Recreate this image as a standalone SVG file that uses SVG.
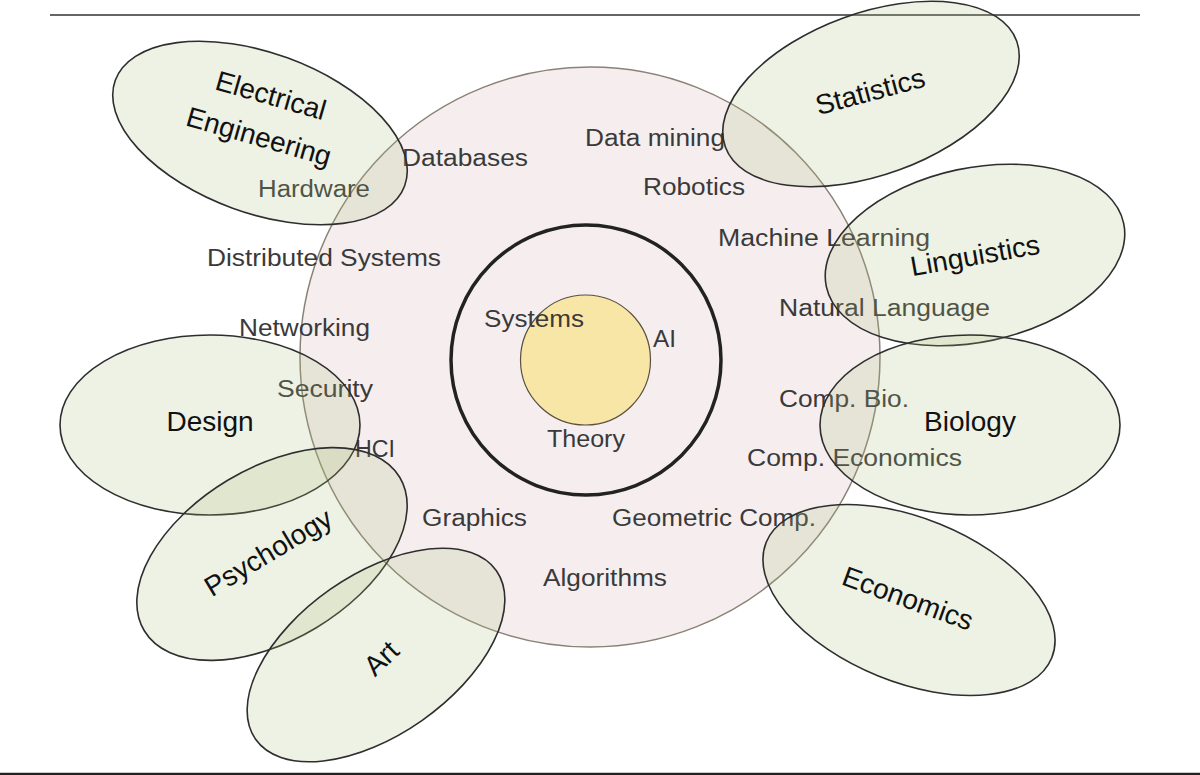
<svg xmlns="http://www.w3.org/2000/svg" width="1200" height="775" viewBox="0 0 1200 775">
<style>
.inner{font-family:"Liberation Sans",Arial,sans-serif;font-size:23px;fill:#3a3a3a;}
.big{font-family:"Liberation Sans",Arial,sans-serif;font-size:28px;fill:#111;text-anchor:middle;}
.ell{fill:#a9bf7a;fill-opacity:0.2;stroke:#2e2e2e;stroke-width:1.6;}
</style>
<rect width="1200" height="775" fill="#ffffff"/>
<line x1="50" y1="15" x2="1140" y2="15" stroke="#333" stroke-width="1.5"/>
<line x1="0" y1="774" x2="1200" y2="774" stroke="#222" stroke-width="2.5"/>

<g id="cs">
<circle cx="590" cy="357" r="290" fill="#f6eeee" stroke="#8a8276" stroke-width="1.5"/>
</g>
<g id="core">
<circle cx="586" cy="360" r="135" fill="none" stroke="#222" stroke-width="3.5"/>
<circle cx="585.5" cy="360" r="65" fill="#f7e6a6" stroke="#5a5040" stroke-width="1.2"/>
</g>

<g id="inner-labels" class="inner">
<text x="258" y="197" textLength="112" lengthAdjust="spacingAndGlyphs">Hardware</text>
<text x="402" y="166" textLength="126" lengthAdjust="spacingAndGlyphs">Databases</text>
<text x="585" y="146" textLength="140" lengthAdjust="spacingAndGlyphs">Data mining</text>
<text x="643" y="195" textLength="102" lengthAdjust="spacingAndGlyphs">Robotics</text>
<text x="718" y="246" textLength="212" lengthAdjust="spacingAndGlyphs">Machine Learning</text>
<text x="779" y="316" textLength="211" lengthAdjust="spacingAndGlyphs">Natural Language</text>
<text x="207" y="266" textLength="234" lengthAdjust="spacingAndGlyphs">Distributed Systems</text>
<text x="239" y="336" textLength="131" lengthAdjust="spacingAndGlyphs">Networking</text>
<text x="277" y="397" textLength="96" lengthAdjust="spacingAndGlyphs">Security</text>
<text x="355" y="457" textLength="40" lengthAdjust="spacingAndGlyphs">HCI</text>
<text x="779" y="407" textLength="130" lengthAdjust="spacingAndGlyphs">Comp. Bio.</text>
<text x="747" y="466" textLength="215" lengthAdjust="spacingAndGlyphs">Comp. Economics</text>
<text x="422" y="526" textLength="105" lengthAdjust="spacingAndGlyphs">Graphics</text>
<text x="612" y="526" textLength="204" lengthAdjust="spacingAndGlyphs">Geometric Comp.</text>
<text x="543" y="586" textLength="124" lengthAdjust="spacingAndGlyphs">Algorithms</text>
<text x="484" y="327" textLength="100" lengthAdjust="spacingAndGlyphs">Systems</text>
<text x="653" y="347" textLength="23" lengthAdjust="spacingAndGlyphs">AI</text>
<text x="547" y="447" textLength="78" lengthAdjust="spacingAndGlyphs">Theory</text>
</g>

<g id="electrical-engineering">
<ellipse class="ell" cx="260" cy="133" rx="154" ry="80" transform="rotate(20 260 133)"/>
<text class="big" transform="translate(271 95) rotate(16)" y="10">Electrical</text>
<text class="big" transform="translate(259 136) rotate(16)" y="10">Engineering</text>
</g>
<g id="statistics">
<ellipse class="ell" cx="871" cy="94" rx="155" ry="81" transform="rotate(-20 871 94)"/>
<text class="big" transform="translate(870 91) rotate(-15)" y="10">Statistics</text>
</g>
<g id="linguistics">
<ellipse class="ell" cx="975" cy="255" rx="152" ry="87" transform="rotate(-12 975 255)"/>
<text class="big" transform="translate(975 255) rotate(-10)" y="10">Linguistics</text>
</g>
<g id="biology">
<ellipse class="ell" cx="970" cy="425" rx="150" ry="90"/>
<text class="big" x="970" y="431">Biology</text>
</g>
<g id="economics">
<ellipse class="ell" cx="909" cy="600" rx="154" ry="82" transform="rotate(22 909 600)"/>
<text class="big" transform="translate(908 598) rotate(20)" y="10">Economics</text>
</g>
<g id="design">
<ellipse class="ell" cx="210" cy="425" rx="150" ry="90"/>
<text class="big" x="210" y="431">Design</text>
</g>
<g id="psychology">
<ellipse class="ell" cx="272" cy="554" rx="149" ry="86" transform="rotate(-31 272 554)"/>
<text class="big" transform="translate(268 552) rotate(-31)" y="10">Psychology</text>
</g>
<g id="art">
<ellipse class="ell" cx="376" cy="655" rx="147" ry="80" transform="rotate(-35 376 655)"/>
<text class="big" transform="translate(381 658) rotate(-44)" y="10">Art</text>
</g>
</svg>
